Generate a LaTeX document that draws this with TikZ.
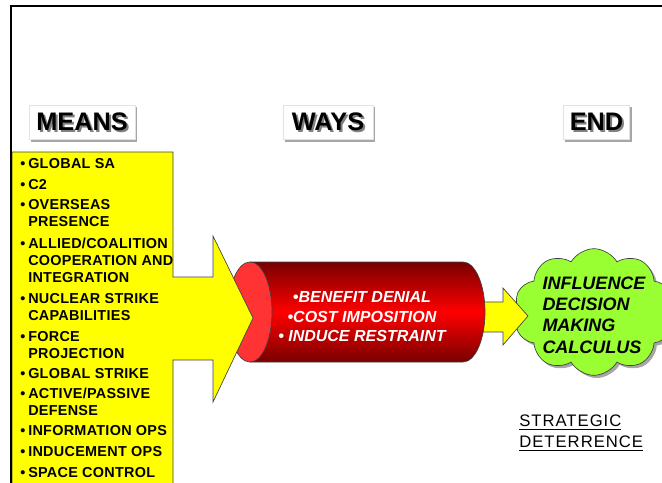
\documentclass[tikz,border=0pt]{standalone}
\usepackage{fontspec}
\setmainfont{Liberation Sans}
\usepackage{tikz}
\usetikzlibrary{shapes.symbols,shadows}
\definecolor{slideyellow}{HTML}{FFFF00}
\definecolor{slidered}{HTML}{FF0000}
\definecolor{slidemaroon}{HTML}{780000}
\definecolor{slideface}{HTML}{FF3333}
\definecolor{slidegreen}{HTML}{99FF33}
\definecolor{slideline}{HTML}{404040}
\newcommand\shadowtext[1]{\makebox[0pt][l]{\kern1.5pt\raisebox{-1.5pt}{\textcolor{gray}{#1}}}#1}
\newcommand\bul{\makebox[6pt][l]{•}}
\newcommand\ind{\hspace*{6pt}}

\begin{document}
\begin{tikzpicture}[
  x=0.75pt,y=-0.75pt,
  hdr/.style={draw=slideyellow,fill=white,line width=0.6pt,minimum height=26pt,inner sep=0pt,
    drop shadow={shadow xshift=1.5pt,shadow yshift=-1.5pt,fill=gray!70,opacity=1},
    font=\bfseries\fontsize{19}{21}\selectfont},
  item/.style={anchor=north west,inner sep=0pt,align=left,
    font=\addfontfeature{LetterSpace=2}\bfseries\fontsize{10.8}{12.6}\selectfont},
  waytext/.style={text=white,align=center,inner sep=0pt,font=\bfseries\itshape\fontsize{12}{14.6}\selectfont},
  endtext/.style={align=left,inner sep=0pt,font=\bfseries\itshape\fontsize{13.5}{16}\selectfont},
  outline/.style={draw=slideline,line width=0.5pt}
]
\useasboundingbox (0,0) rectangle (662,483);
\clip (0,0) rectangle (662,483);
\node[hdr,minimum width=79.5pt] (means) at (82,122.5) {\shadowtext{MEANS}};
\node[hdr,minimum width=67.5pt] (ways) at (328,122.5) {\shadowtext{WAYS}};
\node[hdr,minimum width=50pt] (end) at (596.5,122.5) {\shadowtext{END}};
\node[cloud,cloud puffs=10,cloud puff arc=120,aspect=1.3,fill=slidegreen,outline,
  minimum width=120pt,minimum height=95pt,
  drop shadow={shadow xshift=2pt,shadow yshift=-2pt,fill=gray!70,opacity=1}] (endcloud) at (594,312) {};
\node[endtext] (endlist) at (594,315) {INFLUENCE\\DECISION\\MAKING\\CALCULUS};
\draw[outline,fill=slideyellow] (478,302) -- (503,302) -- (503,288) -- (528,316) -- (503,345) -- (503,332) -- (478,332) -- cycle;
\draw[outline,top color=slidemaroon,bottom color=slidemaroon,middle color=slidered]
  (250,262) -- (463,262) arc[start angle=-90,end angle=90,x radius=22,y radius=50] -- (250,362) -- cycle;
\draw[outline,fill=slideface] (250,312) ellipse [x radius=22,y radius=50];
\node[waytext] (wayslist) at (362,317) {•BENEFIT DENIAL\\•COST IMPOSITION\\• INDUCE RESTRAINT};
\draw[outline,fill=slideyellow] (12,152) -- (173,152) -- (173,277) -- (213,277) -- (213,236) -- (253,318)
  -- (213,402) -- (213,360) -- (173,360) -- (173,490) -- (12,490) -- cycle;
\foreach \y/\t in {158/{GLOBAL SA},179/{C2},199/{OVERSEAS\\\ind PRESENCE},
  238/{ALLIED/COALITION\\\ind COOPERATION AND\\\ind INTEGRATION},293/{NUCLEAR STRIKE\\\ind CAPABILITIES},
  331/{FORCE\\\ind PROJECTION},368/{GLOBAL STRIKE},388/{ACTIVE/PASSIVE\\\ind DEFENSE},
  425/{INFORMATION OPS},446/{INDUCEMENT OPS},467/{SPACE CONTROL}}
  {\node[item] (item-\y) at (20,\y) {\bul\t};}
\node[anchor=north west,inner sep=0pt,align=left,
  font=\addfontfeature{LetterSpace=6}\fontsize{12.5}{15.75}\selectfont] (deter)
  at (519,415) {\underline{STRATEGIC}\\\underline{DETERRENCE}};
\draw[line width=1.5pt] (11,490) -- (11,6) -- (670,6);
\end{tikzpicture}
\end{document}
